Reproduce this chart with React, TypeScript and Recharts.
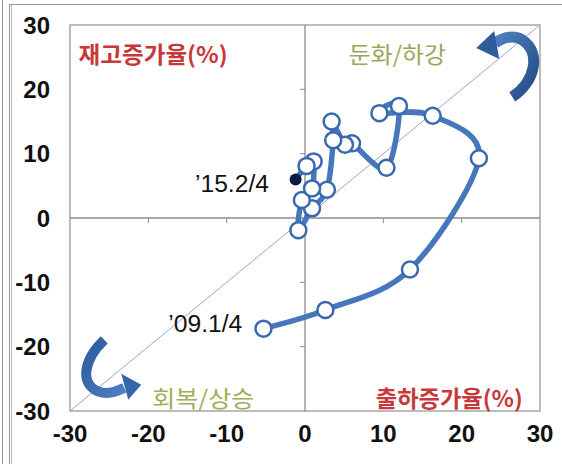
import React from "react";
import {
  ScatterChart,
  Scatter,
  XAxis,
  YAxis,
  ReferenceLine,
  ReferenceArea,
  ReferenceDot,
} from "recharts";

// shipment growth (x) vs inventory growth (y), '09.1/4 -> '15.2/4
const shipmentGrowth = [-5.3, 2.6, 13.4, 22.2, 16.3, 9.5, 12.0, 10.4, 6.0, 5.1, 3.4, 3.6, 2.8, 0.9, -0.85, -0.4, 0.9, 1.1, 0.2, -1.2];
const inventoryGrowth = [-17.2, -14.3, -8.0, 9.3, 15.9, 16.3, 17.4, 7.8, 11.6, 11.4, 15.0, 12.1, 4.4, 1.5, -1.9, 2.8, 4.6, 8.8, 8.1, 6.0];
const axisTicks = [-30, -20, -10, 0, 10, 20, 30];
const innerTicks = [-20, -10, 10, 20];

const track = shipmentGrowth.map((x, i) => ({
  x,
  y: inventoryGrowth[i],
  latest: i === shipmentGrowth.length - 1,
}));

const LINE = "#4677bd";
const MARK = "#3a69ad";
const AXIS_GRAY = "#8c8c8c";
const RED = "#c8373a";
const OLIVE = "#98a85a";

const tickStyle = {
  fontFamily: "'Liberation Sans', Arial, sans-serif",
  fontWeight: 700,
  fontSize: 24,
  fill: "#111",
};

function smoothPath(points: { x: number; y: number }[]) {
  if (!points || points.length < 2) return "";
  let d = `M${points[0].x},${points[0].y}`;
  for (let i = 0; i < points.length - 1; i++) {
    const p0 = points[i - 1] || points[i];
    const p1 = points[i];
    const p2 = points[i + 1];
    const p3 = points[i + 2] || p2;
    const c1x = p1.x + (p2.x - p0.x) / 6;
    const c1y = p1.y + (p2.y - p0.y) / 6;
    const c2x = p2.x - (p3.x - p1.x) / 6;
    const c2y = p2.y - (p3.y - p1.y) / 6;
    d += ` C${c1x},${c1y} ${c2x},${c2y} ${p2.x},${p2.y}`;
  }
  return d;
}

const TrackLine = (props: any) => (
  <path
    d={smoothPath(props.points)}
    fill="none"
    stroke={LINE}
    strokeWidth={5.5}
    strokeLinejoin="round"
    strokeLinecap="round"
  />
);

const Marker = (props: any) => {
  const { cx, cy, payload } = props;
  if (payload && payload.latest) {
    return <circle cx={cx} cy={cy} r={6} fill="#0c1c44" />;
  }
  return <circle cx={cx} cy={cy} r={8} fill="#fff" stroke={MARK} strokeWidth={2.5} />;
};

const Note = ({ text, color, anchor, weight, size, family, width }: any) => (props: any) => (
  <text
    x={props.cx}
    y={props.cy}
    textAnchor={anchor}
    dominantBaseline="central"
    fill={color}
    fontSize={size}
    fontWeight={weight}
    fontFamily={family}
    textLength={width}
    lengthAdjust="spacingAndGlyphs"
  >
    {text}
  </text>
);

const KR = "'Noto Sans CJK KR', sans-serif";
const LAT = "'Liberation Sans', Arial, sans-serif";

const TopArrow = (props: any) => {
  const { cx, cy } = props;
  return (
    <g transform={`translate(${cx},${cy})`}>
      <defs>
        <linearGradient id="arrA" x1="0" y1="0" x2="1" y2="1">
          <stop offset="0" stopColor="#4f80c2" />
          <stop offset="1" stopColor="#234a86" />
        </linearGradient>
      </defs>
      <path
        d="M2,32 C24,18 32,-12 12,-25 C4,-30 -6,-28 -15,-22"
        fill="none"
        stroke="url(#arrA)"
        strokeWidth={11}
      />
      <polygon points="-34,-17 -16,-34 -11,-6" fill="#2f5c9c" />
    </g>
  );
};

const BottomArrow = (props: any) => {
  const { cx, cy } = props;
  return (
    <g transform={`translate(${cx},${cy})`}>
      <defs>
        <linearGradient id="arrB" x1="0" y1="0" x2="1" y2="1">
          <stop offset="0" stopColor="#2c5a9a" />
          <stop offset="1" stopColor="#4f80c2" />
        </linearGradient>
      </defs>
      <path
        d="M-1,-30 C-22,-10 -26,15 -6,22 C2,25 10,22 19,18"
        fill="none"
        stroke="url(#arrB)"
        strokeWidth={10}
      />
      <polygon points="36,15 16,4 23,30" fill="#3566a8" />
    </g>
  );
};

export default function App() {
  return (
    <div
      style={{
        position: "absolute",
        left: 0,
        top: 0,
        width: 562,
        height: 464,
        background: "#fff",
        overflow: "hidden",
      }}
    >
      <div style={{ position: "absolute", left: 2, top: 0, width: 1, height: 464, background: "#999" }} />
      <div style={{ position: "absolute", left: 9, top: 4, width: 1, height: 460, background: "#999" }} />
      <div style={{ position: "absolute", left: 11, top: 4, width: 1, height: 460, background: "#bbb" }} />
      <div style={{ position: "absolute", left: 9, top: 4, width: 553, height: 1, background: "#999" }} />
      <ScatterChart
        width={562}
        height={464}
        margin={{ top: 25, right: 22, bottom: 13, left: 0 }}
      >
        <XAxis
          type="number"
          dataKey="x"
          domain={[-30, 30]}
          ticks={axisTicks}
          allowDataOverflow
          axisLine={false}
          tickLine={false}
          tickMargin={8}
          height={40}
          tick={tickStyle}
        />
        <YAxis
          type="number"
          dataKey="y"
          domain={[-30, 30]}
          ticks={axisTicks}
          allowDataOverflow
          axisLine={false}
          tickLine={false}
          tickMargin={14}
          width={70}
          tick={tickStyle}
        />
        <ReferenceArea x1={-30} x2={30} y1={-30} y2={30} fill="none" stroke="#a6a6a6" strokeWidth={1.5} />
        <ReferenceLine x={0} stroke={AXIS_GRAY} strokeWidth={1.3} />
        <ReferenceLine y={0} stroke={AXIS_GRAY} strokeWidth={1.3} />
        {innerTicks.map((v) => (
          <ReferenceLine key={`xt${v}`} segment={[{ x: v, y: 0 }, { x: v, y: -0.8 }]} stroke={AXIS_GRAY} />
        ))}
        {innerTicks.map((v) => (
          <ReferenceLine key={`yt${v}`} segment={[{ x: 0, y: v }, { x: -0.65, y: v }]} stroke={AXIS_GRAY} />
        ))}
        <ReferenceLine
          segment={[{ x: -30, y: -30 }, { x: 30, y: 30 }]}
          stroke="#8fa9d2"
          strokeWidth={1}
        />
        <ReferenceDot x={26.2} y={23.8} r={0} shape={TopArrow} />
        <ReferenceDot x={-25.5} y={-23.6} r={0} shape={BottomArrow} />
        <Scatter
          data={track}
          line={TrackLine}
          lineType="joint"
          shape={Marker}
          isAnimationActive={false}
        />
        <ReferenceDot x={-28.9} y={25.7} r={0} shape={Note({ text: "재고증가율(%)", color: RED, anchor: "start", weight: 700, size: 23, family: KR, width: 149 })} />
        <ReferenceDot x={5.6} y={25.7} r={0} shape={Note({ text: "둔화/하강", color: OLIVE, anchor: "start", weight: 400, size: 23, family: KR, width: 97 })} />
        <ReferenceDot x={-19.5} y={-27.8} r={0} shape={Note({ text: "회복/상승", color: "#a3ad58", anchor: "start", weight: 400, size: 23, family: KR, width: 102 })} />
        <ReferenceDot x={27.8} y={-27.8} r={0} shape={Note({ text: "출하증가율(%)", color: RED, anchor: "end", weight: 700, size: 23, family: KR, width: 147 })} />
        <ReferenceDot x={-4.6} y={5.3} r={0} shape={Note({ text: "’15.2/4", color: "#111", anchor: "end", weight: 400, size: 23, family: LAT, width: 74 })} />
        <ReferenceDot x={-8.0} y={-16.5} r={0} shape={Note({ text: "’09.1/4", color: "#111", anchor: "end", weight: 400, size: 23, family: LAT, width: 74 })} />
      </ScatterChart>
    </div>
  );
}
